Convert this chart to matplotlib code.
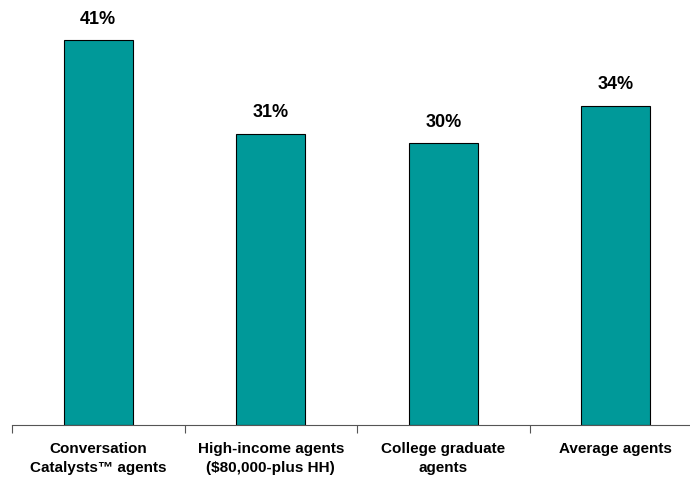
import matplotlib
matplotlib.use("Agg")
import matplotlib.pyplot as plt
import numpy as np

categories = ["Conversation\nCatalysts\u2122 agents",
              "High-income agents\n($80,000-plus HH)",
              "College graduate\nagents",
              "Average agents"]
values = [41, 31, 30, 34]

plt.rcParams['font.family'] = ['Liberation Sans', 'DejaVu Sans']

fig = plt.figure(figsize=(6.9, 4.78), dpi=100)
ax = fig.add_axes([12/690, 53/478, 678/690, 425/478])

x = np.arange(len(categories))
bars = ax.bar(x, values, width=0.4, color="#009999", edgecolor="black", linewidth=0.8)

for xi, v in zip(x, values):
    ax.annotate(f"{v}%", (xi, v), xytext=(0, 9), textcoords="offset points",
                ha="center", va="bottom", fontsize=13, fontweight="bold")

ax.set_xlim(-0.5, -0.5 + 678/172.5)
ax.set_ylim(0, 425/9.39)

for s in ["top", "right", "left"]:
    ax.spines[s].set_visible(False)
ax.spines["bottom"].set_color("#555555")
ax.set_yticks([])

# tick marks between categories, labels at centers
ax.set_xticks(np.arange(-0.5, len(categories) - 0.5, 1.0))
ax.set_xticklabels([])
ax.tick_params(axis="x", direction="out", length=6, color="#555555")
ax.set_xticks(x, minor=True)
ax.set_xticklabels(categories, minor=True, fontsize=11, fontweight="bold",
                   linespacing=1.45)
ax.tick_params(axis="x", which="minor", length=0, pad=12)

fig.savefig("out.png", dpi=100)
